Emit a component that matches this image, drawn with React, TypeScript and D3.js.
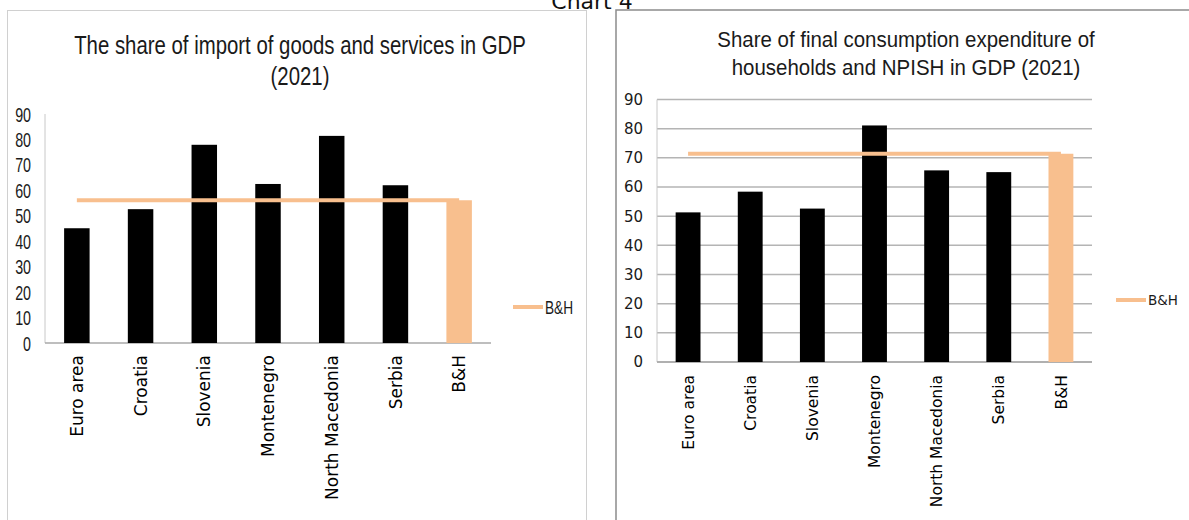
import React from "react";
import * as d3 from "d3";

// Categories shared by both panels
const categories = [
  "Euro area",
  "Croatia",
  "Slovenia",
  "Montenegro",
  "North Macedonia",
  "Serbia",
  "B&H",
];

// Import of goods and services, % of GDP (2021)
const importShare = [45.1, 52.6, 77.9, 62.5, 81.4, 62.0, 56.1];

// Final consumption expenditure of households and NPISH, % of GDP (2021)
const consumptionShare = [51.3, 58.4, 52.6, 81.1, 65.7, 65.1, 71.4];

const yTicks = [0, 10, 20, 30, 40, 50, 60, 70, 80, 90];
const legendLabel = "B&H";
const focusCountry = "B&H";

const BAR = "#000000";
const ORANGE = "#f8bf8e";
const SANS = "'Liberation Sans', Arial, sans-serif";
const WIDE = "'DejaVu Sans', Verdana, sans-serif";

// Text squeezed horizontally around its anchor point
function SqText(props: {
  x: number;
  y: number;
  sx: number;
  size: number;
  family: string;
  anchor?: string;
  dy?: string;
  children: React.ReactNode;
}) {
  return (
    <text
      transform={`translate(${props.x},${props.y}) scale(${props.sx},1)`}
      dy={props.dy}
      textAnchor={props.anchor ?? "start"}
      fontFamily={props.family}
      fontSize={props.size}
      fill="#1a1a1a"
    >
      {props.children}
    </text>
  );
}

type PanelProps = {
  values: number[];
  titleLines: string[];
  titleX: number;
  titleY: number[];
  titleSize: number;
  titleSx: number;
  x0: number;
  x1: number;
  yTop: number;
  yBottom: number;
  grid: boolean;
  yLabelX: number;
  yLabelFont: string;
  yLabelSize: number;
  yLabelSx: number;
  xLabelTop: number;
  xLabelSize: number;
  legendX: number;
  legendY: number;
  legendFont: string;
  legendSize: number;
  legendSx: number;
};

function Panel(p: PanelProps) {
  const x = d3
    .scaleBand<string>()
    .domain(categories)
    .range([p.x0, p.x1])
    .paddingInner(0.6)
    .paddingOuter(0.3);
  const y = d3.scaleLinear().domain([0, 90]).range([p.yBottom, p.yTop]);
  const bh = p.values[categories.indexOf(focusCountry)];
  const linePts: [number, number][] = categories.map((c) => [
    (x(c) ?? 0) + x.bandwidth() / 2,
    y(bh),
  ]);
  const line = d3.line()(linePts) ?? "";

  return (
    <g>
      {p.titleLines.map((t, i) => (
        <SqText
          key={t}
          x={p.titleX}
          y={p.titleY[i]}
          sx={p.titleSx}
          size={p.titleSize}
          family={SANS}
          anchor="middle"
        >
          {t}
        </SqText>
      ))}
      {p.grid &&
        yTicks.map((t) => (
          <line
            key={"g" + t}
            x1={p.x0}
            x2={p.x1}
            y1={y(t)}
            y2={y(t)}
            stroke="#b4b4b4"
            strokeWidth={1.5}
          />
        ))}
      <line
        x1={p.x0}
        x2={p.x0}
        y1={y(90)}
        y2={y(0)}
        stroke="#c8c8c8"
        strokeWidth={1}
      />
      <line
        x1={p.x0}
        x2={p.x1}
        y1={y(0)}
        y2={y(0)}
        stroke="#a8a8a8"
        strokeWidth={1.5}
      />
      {yTicks.map((t) => (
        <SqText
          key={"l" + t}
          x={p.yLabelX}
          y={y(t)}
          dy="0.36em"
          sx={p.yLabelSx}
          anchor="end"
          family={p.yLabelFont}
          size={p.yLabelSize}
        >
          {t}
        </SqText>
      ))}
      {categories.map((c, i) => (
        <rect
          key={c}
          x={x(c)}
          y={y(p.values[i])}
          width={x.bandwidth()}
          height={y(0) - y(p.values[i])}
          fill={c === focusCountry ? ORANGE : BAR}
        />
      ))}
      <path d={line} fill="none" stroke={ORANGE} strokeWidth={4} />
      {categories.map((c) => (
        <text
          key={"x" + c}
          transform={`translate(${(x(c) ?? 0) + x.bandwidth() / 2},${p.xLabelTop}) rotate(-90)`}
          dy="0.36em"
          textAnchor="end"
          fontFamily={WIDE}
          fontSize={p.xLabelSize}
          fill="#000"
        >
          {c}
        </text>
      ))}
      <line
        x1={p.legendX}
        x2={p.legendX + 30}
        y1={p.legendY}
        y2={p.legendY}
        stroke={ORANGE}
        strokeWidth={4}
      />
      <SqText
        x={p.legendX + 32}
        y={p.legendY}
        dy="0.36em"
        sx={p.legendSx}
        family={p.legendFont}
        size={p.legendSize}
      >
        {legendLabel}
      </SqText>
    </g>
  );
}

export default function App() {
  return (
    <svg
      width={1189}
      height={520}
      style={{ position: "absolute", left: 0, top: 0, background: "#fff" }}
    >
      <rect x={0} y={0} width={1189} height={520} fill="#fff" />
      <text
        x={592}
        y={9}
        textAnchor="middle"
        fontFamily={WIDE}
        fontSize={22}
        fill="#111"
      >
        Chart 4
      </text>
      {/* left panel frame */}
      <rect
        x={7.5}
        y={10.5}
        width={579}
        height={520}
        fill="none"
        stroke="#d0d0d0"
        strokeWidth={1}
      />
      {/* right panel frame */}
      <rect
        x={616}
        y={10}
        width={600}
        height={520}
        fill="none"
        stroke="#8c8c8c"
        strokeWidth={1.5}
      />
      <Panel
        values={importShare}
        titleLines={["The share of import of goods and services in GDP", "(2021)"]}
        titleX={300}
        titleY={[54, 85]}
        titleSize={25}
        titleSx={0.815}
        x0={45}
        x1={491}
        yTop={114}
        yBottom={343}
        grid={false}
        yLabelX={31}
        yLabelFont={SANS}
        yLabelSize={21}
        yLabelSx={0.68}
        xLabelTop={355}
        xLabelSize={17}
        legendX={513}
        legendY={307}
        legendFont={SANS}
        legendSize={19}
        legendSx={0.72}
      />
      <Panel
        values={consumptionShare}
        titleLines={[
          "Share of final consumption expenditure of",
          "households and NPISH in GDP (2021)",
        ]}
        titleX={906}
        titleY={[47, 75]}
        titleSize={22}
        titleSx={0.93}
        x0={657}
        x1={1092}
        yTop={99.5}
        yBottom={362}
        grid={true}
        yLabelX={643}
        yLabelFont={WIDE}
        yLabelSize={15}
        yLabelSx={1}
        xLabelTop={375}
        xLabelSize={15.5}
        legendX={1116}
        legendY={300}
        legendFont={WIDE}
        legendSize={13.5}
        legendSx={1}
      />
    </svg>
  );
}
